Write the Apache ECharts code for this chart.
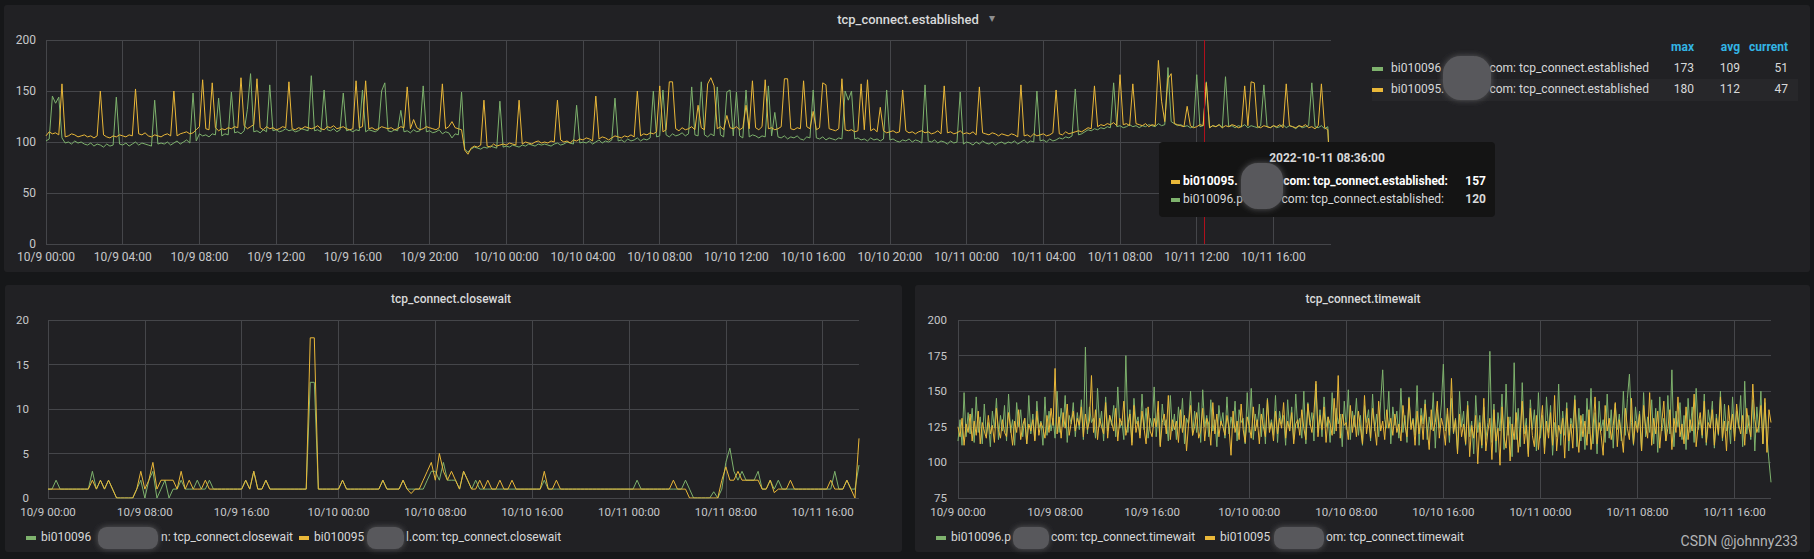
<!DOCTYPE html>
<html lang="en">
<head>
<meta charset="UTF-8">
<title>tcp_connect</title>
<script src="https://cdn.jsdelivr.net/npm/echarts@6/dist/echarts.min.js"></script>
<style>
    html, body { margin: 0; padding: 0; background: #161719; }
    .panel { position: absolute; background: #212124; border-radius: 3px; }
    #main { position: absolute; left: 0; top: 0; width: 1814px; height: 559px; }
</style>
</head>
<body>
<div class="panel" style="left:4px;top:5px;width:1806px;height:267px;"></div>
<div class="panel" style="left:5px;top:285px;width:897px;height:267px;"></div>
<div class="panel" style="left:915px;top:285px;width:895px;height:267px;"></div>
<div id="main"></div>
<script type="text/javascript">
    // x axis: hours since 10/9 00:00
    var estTicks = ['10/9 00:00','10/9 04:00','10/9 08:00','10/9 12:00','10/9 16:00','10/9 20:00',
        '10/10 00:00','10/10 04:00','10/10 08:00','10/10 12:00','10/10 16:00','10/10 20:00',
        '10/11 00:00','10/11 04:00','10/11 08:00','10/11 12:00','10/11 16:00'];
    var smallTicks = ['10/9 00:00','10/9 08:00','10/9 16:00','10/10 00:00','10/10 08:00',
        '10/10 16:00','10/11 00:00','10/11 08:00','10/11 16:00'];
    var endHour = 67;
    var hoverHour = 60.4;   // red hover line

    // tcp_connect.established, one value every 10 min
    var estGreen = [
        101,103,145,138,144,104,99,100,98,101,99,100,
        98,97,99,96,98,97,95,98,96,97,144,98,
        97,99,96,98,100,97,99,98,97,96,141,98,
        99,98,100,97,99,101,98,100,102,99,148,101,
        108,106,107,105,108,107,143,106,108,107,149,109,
        110,108,111,132,167,110,111,109,112,110,156,111,
        112,110,111,113,111,112,110,111,113,112,111,165,
        111,112,110,151,112,111,113,110,112,148,111,112,
        110,112,111,151,110,112,111,110,112,150,158,111,
        110,112,111,131,110,111,109,112,110,111,155,110,
        111,109,110,112,108,110,109,104,108,107,149,93,
        90,93,95,94,93,95,94,96,95,94,140,95,
        96,95,97,96,95,97,96,98,97,96,98,97,
        98,97,96,98,99,97,98,100,99,98,136,99,
        100,99,101,98,100,102,99,101,100,102,143,101,
        102,100,103,101,102,104,101,103,102,104,150,105,
        106,151,107,105,108,106,107,109,106,108,154,107,
        106,159,107,105,108,106,154,107,105,149,151,106,
        149,106,104,151,105,107,106,104,106,105,155,106,
        129,105,104,106,103,105,104,106,103,102,105,104,
        151,104,103,105,102,104,103,102,104,103,150,141,
        150,103,104,102,103,101,104,102,103,101,103,151,
        102,103,101,100,102,101,103,100,102,101,99,156,
        101,100,102,99,101,100,98,101,99,100,149,98,
        100,99,97,100,98,101,99,98,100,97,99,100,
        98,100,99,101,98,100,102,99,101,100,150,101,
        102,100,103,101,102,104,103,105,104,106,152,107,
        108,110,112,111,113,112,114,113,115,114,158,115,
        116,114,115,117,115,116,114,116,115,117,116,115,
        118,116,117,173,120,118,116,117,115,116,114,115,
        166,115,116,159,114,116,115,117,114,164,115,116,
        114,116,115,117,114,116,115,114,116,156,115,114,
        116,114,115,117,114,116,115,113,116,114,115,116,
        158,115,114,116,113,115,51
    ];
    var estYellow = [
        106,110,108,109,107,157,105,106,108,107,105,106,
        107,105,106,104,106,150,107,105,104,106,105,107,
        106,105,107,106,152,108,107,109,106,105,107,106,
        105,107,108,106,150,106,108,109,110,108,109,112,
        115,161,113,112,158,114,111,113,112,114,113,115,
        114,163,116,113,115,117,162,114,112,115,113,114,
        112,113,115,114,159,113,112,114,113,115,114,113,
        114,116,113,112,115,114,116,113,114,115,113,112,
        113,160,114,115,160,113,114,112,113,115,114,113,
        114,112,113,115,114,154,113,122,114,112,113,115,
        114,113,112,114,157,113,115,120,114,113,112,92,
        88,94,96,95,97,141,96,95,98,96,97,98,
        97,99,98,97,141,98,100,99,98,100,101,99,
        100,99,101,100,141,102,100,101,99,102,101,103,
        102,104,103,101,145,103,105,104,102,104,106,105,
        104,106,105,107,105,150,106,108,107,109,108,110,
        155,110,112,159,159,113,111,114,112,113,115,112,
        136,114,112,157,163,155,113,115,112,126,114,113,
        115,112,114,136,113,160,114,112,115,161,113,114,
        112,113,115,162,162,113,112,114,113,160,115,113,
        130,112,114,158,156,113,112,111,113,162,112,111,
        112,110,111,157,112,161,111,113,110,134,111,109,
        110,111,109,110,151,111,109,110,108,110,111,109,
        110,108,109,111,108,155,109,110,108,109,111,108,
        109,108,110,107,154,109,108,107,109,108,106,108,
        107,106,108,107,105,156,106,107,105,108,106,107,
        108,106,107,109,151,108,107,110,108,109,110,111,
        110,112,114,113,155,115,117,116,118,117,119,116,
        166,117,118,116,157,118,117,116,118,115,117,116,
        180,140,120,162,167,118,117,116,115,135,116,114,
        115,117,116,158,114,116,115,117,114,116,115,117,
        116,114,115,155,116,159,158,115,114,116,115,114,
        116,115,117,114,157,116,115,114,116,115,117,114,
        115,113,116,157,114,112,47
    ];

    // tcp_connect.closewait, one value every 20 min
    var closeGreen = [
        1,1,2,1,1,1,1,1,1,1,1,3,
        1,2,1,2,1,0,0,0,0,0,1,2,
        0,2,3,0,1,2,0,1,1,2,1,1,
        1,2,1,1,2,1,1,1,1,1,1,1,
        1,2,1,3,1,1,2,1,1,1,1,1,
        1,1,1,1,1,13,13,1,1,1,1,1,
        1,2,1,1,1,1,1,1,1,1,1,2,
        1,1,1,1,2,1,1,1,1,1,2,3,
        3,2,4,2,2,2,1,3,2,1,2,1,
        1,1,1,1,1,1,1,1,1,1,1,1,
        1,1,1,2,1,1,1,1,1,1,1,1,
        1,1,1,1,1,1,1,1,1,1,1,1,
        1,1,2,1,1,1,1,1,1,1,1,1,
        1,1,2,1,0,0,0,0,0,0.7,0,1,
        4,5.6,3,2,3,2,2,2,3,1,1,2,
        1,2,1,1,1,1,1,1,1,1,1,1,
        1,1,1,3,1,1,2,1,1,3.7
    ];
    var closeYellow = [
        1,1,1,1,1,1,1,1,1,1,1,2,
        1,2,1,2,1,0,0,0,0,0,1,3,
        1,2,4,1,2,2,2,2,1,3,1,2,
        1,1,1,2,1,1,1,1,1,1,1,1,
        1,2,1,3,1,1,2,1,1,1,1,1,
        1,1,1,1,1,18,18,1,1,1,1,1,
        1,2,1,1,1,1,1,1,1,1,1,2,
        1,1,1,1,2,1,0.5,1,1,2,3,4,
        2,5,3,2,3,2,1,3,2,1,1,2,
        1,2,1,1,2,1,1,2,1,1,1,1,
        1,1,1,3,1,1,2,1,1,1,1,1,
        1,1,1,1,1,1,1,1,1,1,1,1,
        1,1,1,1,1,1,1,1,1,1,1,2,
        1,1,1,0,0,0,0,0,0,0,0,2,
        3.5,2,2,3,2,2,2,2,2,1,1,2,
        0.6,1,1,1,2,1,1,1,1,1,1,1,
        1,1,2,1,1,1,2,1,0,6.7
    ];

    // tcp_connect.timewait, one value every 10 min
    var timeGreen = [
        115,130,112,149,118,135,120,138,114,146,121,132,
        113,141,119,128,111,136,124,145,116,133,122,140,
        115,148,121,130,112,142,125,137,118,131,113,147,
        120,134,116,143,124,129,112,146,119,136,122,131,
        117,150,121,138,125,147,114,133,127,142,118,135,
        123,144,116,181,120,139,128,131,117,152,125,136,
        115,146,122,133,126,140,118,153,124,129,116,175,
        121,137,114,145,127,132,119,148,123,138,117,131,
        125,153,118,135,112,141,126,130,115,147,122,134,
        116,139,124,145,113,131,127,150,119,136,121,142,
        114,151,125,133,118,144,122,130,111,140,126,135,
        117,146,120,132,124,143,115,137,128,131,113,149,
        121,152,116,134,125,141,118,138,113,145,123,130,
        119,147,114,136,127,133,112,144,122,139,116,148,
        124,131,117,150,113,142,126,135,115,155,121,137,
        118,146,125,132,114,149,120,138,127,134,111,143,
        123,151,116,136,125,145,119,133,112,140,128,137,
        115,148,122,134,118,143,165,130,124,150,113,139,
        126,136,117,152,121,133,114,146,125,131,119,154,
        112,138,127,144,116,132,123,149,110,137,124,141,
        169,122,134,114,145,120,131,108,150,125,136,112,
        143,118,129,106,147,121,133,110,139,116,128,178,
        114,141,107,135,122,148,109,155,119,132,104,170,
        116,138,111,156,120,131,106,144,123,137,108,149,
        117,133,110,146,121,140,105,128,118,155,112,136,
        119,142,108,131,124,147,111,138,115,134,109,145,
        120,152,113,135,106,143,122,130,114,148,117,137,
        110,141,123,134,115,150,119,145,162,128,112,139,
        124,136,108,149,118,132,121,144,113,138,107,146,
        122,131,115,147,120,165,111,136,125,142,116,133,
        109,145,121,139,114,152,123,130,117,148,112,137,
        126,143,110,134,119,150,115,141,122,129,113,146,
        118,136,124,147,111,157,120,133,116,144,108,139,
        121,150,113,142,118,101,86
    ];
    var timeYellow = [
        125,118,131,112,127,121,134,115,129,119,136,113,
        128,122,117,133,120,126,114,138,123,117,130,121,
        118,135,124,112,129,121,137,116,126,131,113,127,
        122,130,115,136,119,128,124,117,133,121,138,126,
        166,120,132,117,135,124,141,119,128,136,122,131,
        126,139,118,134,123,129,161,121,137,116,131,125,
        120,142,117,133,128,122,138,115,131,126,143,119,
        127,134,112,140,121,129,117,136,124,113,139,122,
        118,131,125,143,111,128,134,120,147,116,130,123,
        129,114,137,121,133,108,127,140,119,125,135,117,
        122,138,115,131,127,112,142,120,134,118,129,125,
        119,133,124,105,136,121,129,116,141,123,114,132,
        126,117,139,122,130,113,134,125,118,144,121,128,
        115,136,120,131,124,142,117,129,122,135,113,127,
        130,119,137,124,116,141,128,121,135,157,118,133,
        123,139,114,132,127,119,145,122,161,117,134,126,
        128,116,140,121,133,118,136,124,113,147,120,131,
        117,138,125,112,143,122,129,116,137,124,131,119,
        134,121,127,115,140,126,118,145,123,130,112,136,
        120,133,116,141,124,109,137,122,128,143,117,131,
        125,112,138,119,159,121,130,106,134,118,127,113,
        140,104,126,117,133,99,128,112,145,108,122,131,
        102,137,115,124,98,139,118,110,132,101,127,116,
        135,107,121,143,113,126,104,138,119,111,133,109,
        124,140,106,129,117,135,112,147,108,126,120,131,
        103,138,115,127,110,144,121,107,133,118,129,112,
        137,109,124,146,113,128,119,105,140,122,131,116,
        126,142,111,130,120,107,138,124,116,145,113,129,
        121,134,108,140,125,117,149,112,131,120,136,110,
        128,143,115,124,137,109,131,121,146,118,127,113,
        139,116,130,122,148,111,126,135,119,143,114,128,
        124,137,112,131,120,146,117,129,108,140,123,134,
        115,141,127,120,133,112,138,125,118,155,130,121,
        126,140,113,145,107,137,128
    ];

    // legend table + hover tooltip text
    var legendMax = [173, 180];
    var legendAvg = [109, 112];
    var legendCur = [51, 47];
    var tipTime = '2022-10-11 08:36:00';
    var tipValues = [157, 120];

    var GREEN = '#7EB26D', YELLOW = '#EAB839';
    var TEXT = '#d8d9da', AXIS_TEXT = '#c7c8ca', GRID = '#45464a';

    function toPairs(arr, stepMin) {
        return arr.map(function (v, i) { return [i * stepMin / 60, v]; });
    }

    function xAxisCfg(idx, ticks, step, size, margin) {
        return {
            type: 'value', gridIndex: idx, min: 0, max: endHour, interval: step,
            axisLine: { show: false }, axisTick: { show: false },
            splitLine: { show: true, showMaxLine: false, lineStyle: { color: GRID, width: 1 } },
            axisLabel: {
                color: AXIS_TEXT, fontFamily: 'Roboto', fontSize: size, margin: margin,
                showMaxLabel: false,
                formatter: function (v) { return ticks[Math.round(v / step)] || ''; }
            }
        };
    }
    function yAxisCfg(idx, min, max, step, margin, size) {
        return {
            type: 'value', gridIndex: idx, min: min, max: max, interval: step,
            axisLine: { show: false }, axisTick: { show: false },
            splitLine: { show: true, lineStyle: { color: GRID, width: 1 } },
            axisLabel: { color: AXIS_TEXT, fontFamily: 'Roboto', fontSize: size, margin: margin }
        };
    }
    function line(name, xi, data, color, extra) {
        var s = {
            name: name, type: 'line', xAxisIndex: xi, yAxisIndex: xi, data: data,
            symbol: 'none', showSymbol: false, animation: false,
            lineStyle: { width: 1, color: color }, itemStyle: { color: color }
        };
        return Object.assign(s, extra || {});
    }
    function txt(x, y, s, font, fill, align, z) {
        return {
            type: 'text', x: x, y: y, z: z || 50, silent: true,
            style: { text: s, font: font, fill: fill, align: align || 'left', verticalAlign: 'middle' }
        };
    }
    function bar(x, y, w, color, z) {
        return { type: 'rect', z: z || 50, silent: true, shape: { x: x, y: y - 2, width: w, height: 4 }, style: { fill: color } };
    }
    function blob(x, y, w, h, z) {
        return {
            type: 'rect', z: z || 60, silent: true,
            shape: { x: x, y: y, width: w, height: h, r: Math.min(w, h) / 2.5 },
            style: { fill: '#58585b', shadowColor: '#58585b', shadowBlur: 6 }
        };
    }

    var myChart = echarts.init(document.getElementById('main'), null, { renderer: 'svg' });

    var f12 = '12px Roboto', b12 = 'bold 12px Roboto';
    var graphics = [
        // titles
        txt(908, 19, 'tcp_connect.established', '500 13px Roboto', TEXT, 'center'),
        txt(992, 18, '▾', '12px Roboto', '#8e8e90', 'center'),
        txt(451, 299, 'tcp_connect.closewait', '500 12px Roboto', TEXT, 'center'),
        txt(1363, 299, 'tcp_connect.timewait', '500 12px Roboto', TEXT, 'center'),

        // established legend table
        { type: 'rect', z: 40, silent: true, shape: { x: 1372, y: 79, width: 426, height: 22 }, style: { fill: '#27272a' } },
        txt(1694, 47, 'max', 'bold 12px Roboto', '#33b5e5', 'right'),
        txt(1740, 47, 'avg', 'bold 12px Roboto', '#33b5e5', 'right'),
        txt(1788, 47, 'current', 'bold 12px Roboto', '#33b5e5', 'right'),
        bar(1372, 69, 11, GREEN), bar(1372, 90, 11, YELLOW),
        txt(1391, 68, 'bi010096', f12, TEXT), txt(1649, 68, 'l.com: tcp_connect.established', f12, TEXT, 'right'),
        txt(1391, 89, 'bi010095.', f12, TEXT), txt(1649, 89, 'com: tcp_connect.established', f12, TEXT, 'right'),
        txt(1694, 68, String(legendMax[0]), f12, TEXT, 'right'),
        txt(1740, 68, String(legendAvg[0]), f12, TEXT, 'right'),
        txt(1788, 68, String(legendCur[0]), f12, TEXT, 'right'),
        txt(1694, 89, String(legendMax[1]), f12, TEXT, 'right'),
        txt(1740, 89, String(legendAvg[1]), f12, TEXT, 'right'),
        txt(1788, 89, String(legendCur[1]), f12, TEXT, 'right'),
        blob(1443, 56, 48, 44),

        // hover tooltip
        { type: 'rect', z: 90, silent: true, shape: { x: 1159, y: 142, width: 336, height: 75, r: 4 }, style: { fill: '#141414' } },
        txt(1327, 158, tipTime, b12, TEXT, 'center', 95),
        bar(1171, 182, 9, YELLOW, 95), bar(1171, 200, 9, GREEN, 95),
        txt(1183, 181, 'bi010095.', b12, '#ffffff', 'left', 95),
        txt(1448, 181, 'com: tcp_connect.established:', b12, '#ffffff', 'right', 95),
        txt(1183, 199, 'bi010096.p', f12, TEXT, 'left', 95),
        txt(1444, 199, 'com: tcp_connect.established:', f12, TEXT, 'right', 95),
        txt(1486, 181, String(tipValues[0]), b12, '#ffffff', 'right', 95),
        txt(1486, 199, String(tipValues[1]), b12, TEXT, 'right', 95),
        blob(1241, 163, 42, 46, 96),

        // closewait legend
        bar(26, 538, 10, GREEN), txt(41, 537, 'bi010096', f12, TEXT),
        txt(161, 537, 'n: tcp_connect.closewait', f12, TEXT),
        blob(98, 527, 60, 22),
        bar(299, 538, 10, YELLOW), txt(314, 537, 'bi010095', f12, TEXT),
        txt(406, 537, 'l.com: tcp_connect.closewait', f12, TEXT),
        blob(367, 527, 37, 22),

        // timewait legend
        bar(936, 538, 10, GREEN), txt(951, 537, 'bi010096.p', f12, TEXT),
        txt(1051, 537, 'com: tcp_connect.timewait', f12, TEXT),
        blob(1013, 527, 36, 22),
        bar(1205, 538, 10, YELLOW), txt(1220, 537, 'bi010095', f12, TEXT),
        txt(1326, 537, 'om: tcp_connect.timewait', f12, TEXT),
        blob(1274, 527, 50, 22),

        txt(1798, 541, 'CSDN @johnny233', '14px Roboto', '#b4b5b7', 'right')
    ];

    myChart.setOption({
        backgroundColor: 'transparent',
        animation: false,
        textStyle: { fontFamily: 'Roboto' },
        grid: [
            { left: 46, right: 483, top: 40, bottom: 315 },
            { left: 48, right: 955, top: 320, bottom: 61 },
            { left: 958, right: 43, top: 320, bottom: 61 }
        ],
        xAxis: [
            xAxisCfg(0, estTicks, 4, 12, 7),
            xAxisCfg(1, smallTicks, 8, 11.5, 8),
            xAxisCfg(2, smallTicks, 8, 11.5, 8)
        ],
        yAxis: [
            yAxisCfg(0, 0, 200, 50, 10, 12),
            yAxisCfg(1, 0, 20, 5, 19, 11.5),
            yAxisCfg(2, 75, 200, 25, 11, 11.5)
        ],
        series: [
            line('bi010096 established', 0, toPairs(estGreen, 10), GREEN),
            line('bi010095 established', 0, toPairs(estYellow, 10), YELLOW, {
                markLine: {
                    silent: true, symbol: 'none', animation: false,
                    label: { show: false },
                    lineStyle: { color: '#b0101c', width: 1, type: 'solid' },
                    data: [{ xAxis: hoverHour }]
                }
            }),
            line('bi010096 closewait', 1, toPairs(closeGreen, 20), GREEN),
            line('bi010095 closewait', 1, toPairs(closeYellow, 20), YELLOW),
            line('bi010096 timewait', 2, toPairs(timeGreen, 10), GREEN),
            line('bi010095 timewait', 2, toPairs(timeYellow, 10), YELLOW)
        ],
        graphic: graphics
    });

    window.onresize = function () {
        myChart.resize();
    };
</script>
</body>
</html>
